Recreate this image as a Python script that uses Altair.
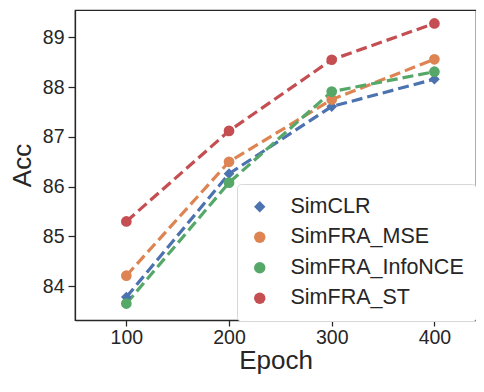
import altair as alt
import pandas as pd

epochs = [100, 200, 300, 400]
methods = ["SimCLR", "SimFRA_MSE", "SimFRA_InfoNCE", "SimFRA_ST"]
simclr = [83.78, 86.26, 87.61, 88.16]
simfra_mse = [84.21, 86.50, 87.75, 88.56]
simfra_infonce = [83.65, 86.08, 87.91, 88.31]
simfra_st = [85.30, 87.12, 88.55, 89.28]
colors = ["#4C72B0", "#DD8452", "#55A868", "#C44E52"]
shapes = ["diamond", "circle", "circle", "circle"]

series = [simclr, simfra_mse, simfra_infonce, simfra_st]
rows = []
for m, vals in zip(methods, series):
    for e, v in zip(epochs, vals):
        rows.append({"Epoch": e, "Acc": v, "Method": m})
df = pd.DataFrame(rows)

FONT = "Liberation Sans"
INK = "#262626"

x = alt.X("Epoch:Q", scale=alt.Scale(domain=[50, 440.5], nice=False, zero=False),
          axis=alt.Axis(values=epochs, title="Epoch"))
y = alt.Y("Acc:Q", scale=alt.Scale(domain=[83.32, 89.55], nice=False, zero=False),
          axis=alt.Axis(values=[84, 85, 86, 87, 88, 89], title="Acc"))
legend = alt.Legend(orient="none", legendX=162, legendY=174)
color = alt.Color("Method:N", scale=alt.Scale(domain=methods, range=colors), title=None, legend=legend)
shape = alt.Shape("Method:N", scale=alt.Scale(domain=methods, range=shapes), title=None, legend=legend)

lines = alt.Chart(df).mark_line(strokeWidth=3.2, strokeDash=[11, 5]).encode(
    x=x, y=y, color=color, detail="Method:N", order="Epoch:Q")
points = alt.Chart(df).mark_point(filled=True, size=115, opacity=1).encode(
    x=x, y=y, color=color, shape=shape)

chart = alt.layer(lines, points).properties(
    width=401, height=310,
    autosize=alt.AutoSizeParams(type="none"),
    padding={"left": 67, "top": 2, "right": 0, "bottom": 56},
).configure_view(
    stroke=INK, strokeWidth=1.25
).configure_axis(
    grid=False, domainColor=INK, domainWidth=1.25, tickColor=INK, tickWidth=1.25,
    tickSize=7, labelFont=FONT, labelFontSize=19.5, labelColor=INK, labelPadding=4,
    titleFont=FONT, titleFontSize=26, titleFontWeight="normal", titleColor=INK,
).configure_axisY(titlePadding=7).configure_axisX(titlePadding=1, labelPadding=2, tickSize=6).configure_legend(
    labelFont=FONT, labelFontSize=21.5, labelColor=INK, symbolSize=130, labelLimit=400,
    padding=12, rowPadding=7.5, labelOffset=20, strokeColor="#d8d8d8", cornerRadius=4,
    fillColor="white", symbolStrokeWidth=0,
)

chart.save("out.html", embed_options={"renderer": "svg", "actions": False})
